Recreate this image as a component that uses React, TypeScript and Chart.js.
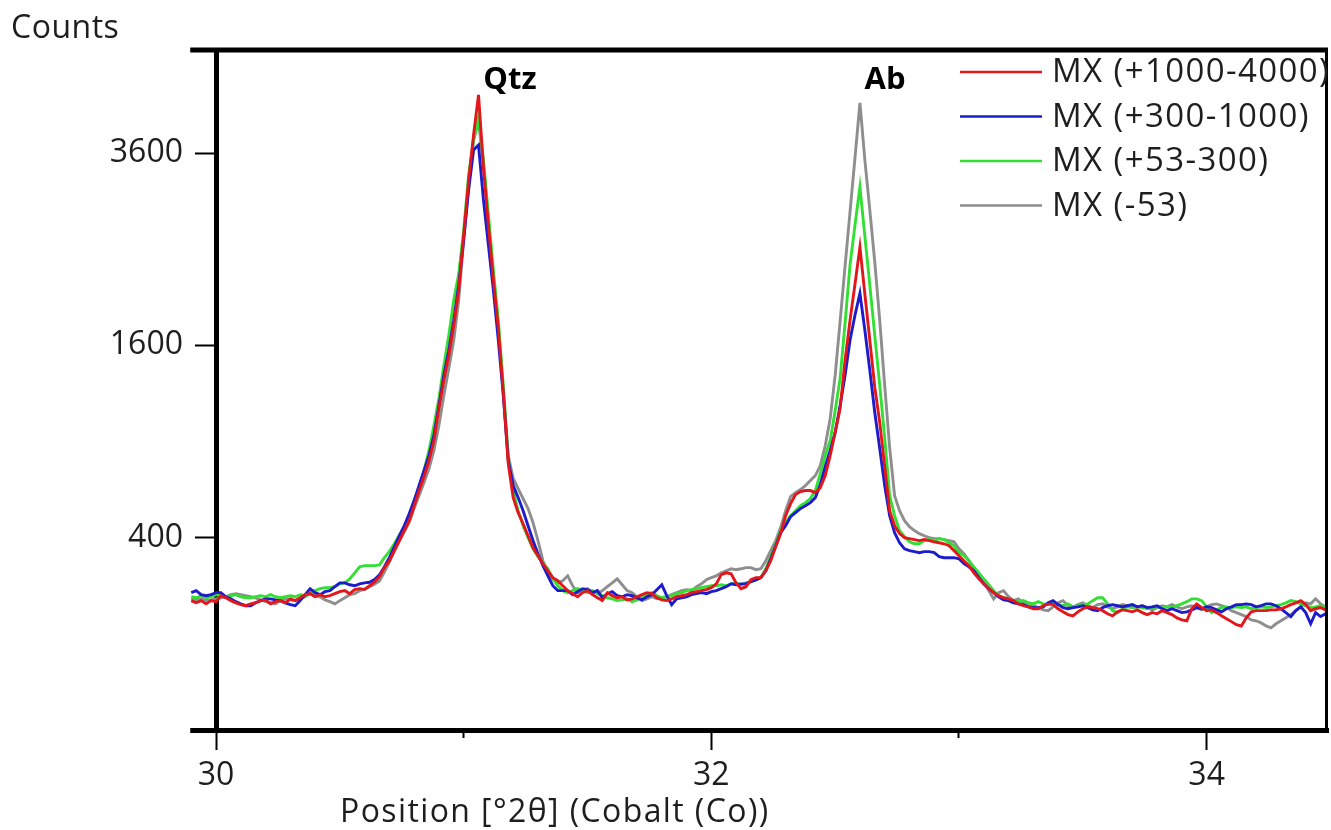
import React, { useEffect, useRef } from 'react';
import { Chart, registerables, LinearScale } from 'chart.js';

Chart.register(...registerables);

// Square-root intensity scale (counts axis)
class SqrtScale extends LinearScale {
  static id = 'sqrt';
  static defaults = {};
  getPixelForValue(value: any) {
    if (value === null || value === undefined || isNaN(value)) return NaN;
    const lo = Math.sqrt(Math.max(this.min, 0));
    const hi = Math.sqrt(Math.max(this.max, 0));
    return this.getPixelForDecimal((Math.sqrt(Math.max(value, 0)) - lo) / (hi - lo));
  }
  getValueForPixel(pixel: number) {
    const lo = Math.sqrt(Math.max(this.min, 0));
    const hi = Math.sqrt(Math.max(this.max, 0));
    const v = lo + this.getDecimalForPixel(pixel) * (hi - lo);
    return v * v;
  }
}
Chart.register(SqrtScale as any);

// ---- scan definition (°2θ) ----
const SCAN_START = 29.9;
const SCAN_STEP = 0.02;

// ---- series values (counts) ----
const mx1000_4000 = [
  181,175,181,172,181,178,195,189,181,175,170,167,172,175,181,183,172,178,181,175,186,181,189,198,201,192,198,192,195,201,207,210,201,213,216,
  214,225,236,254,285,310,348,388,430,474,544,620,695,785,906,1118,1322,1518,1771,2091,2648,3270,3829,4361,3420,2755,2197,1743,1232,768,584,511,460,408,359,328,299,274,251,241,225,
  210,201,192,204,210,198,189,181,204,195,189,192,183,186,192,198,204,201,189,183,181,186,192,195,198,204,207,210,213,219,231,261,267,264,234,216,222,244,251,251,274,310,363,417,
  497,554,599,615,620,620,609,635,700,815,957,1118,1477,1815,2149,2521,2053,1642,1269,1023,751,520,451,417,400,396,392,388,392,388,383,379,375,367,348,328,
  310,292,267,247,231,216,204,195,189,186,181,172,167,164,159,159,167,172,170,159,151,144,141,151,159,164,162,159,154,146,
  141,151,156,154,151,156,149,144,149,146,154,149,144,136,131,129,159,172,162,154,156,149,141,134,127,120,117,136,151,154,
  154,154,156,156,159,164,170,175,181,170,154,159,162,156,154,
];
const mx300_1000 = [
  204,210,198,195,198,204,204,192,186,178,172,167,167,175,181,186,186,183,181,175,170,167,181,198,216,204,198,207,210,222,234,234,228,225,231,
  234,236,245,260,288,321,363,408,451,506,569,646,728,815,938,1139,1359,1558,1815,2139,2595,3152,3638,3700,3036,2541,2091,1642,1210,785,646,584,520,451,388,336,292,257,225,210,210,
  210,198,207,216,213,204,210,189,201,207,195,192,198,195,189,183,192,198,213,228,195,170,186,189,192,198,201,204,201,207,210,216,222,231,228,231,231,238,244,251,274,317,367,421,
  451,492,511,530,544,559,584,651,751,845,957,1139,1359,1642,1860,2062,1728,1398,1090,857,646,497,421,379,355,348,344,340,344,344,340,325,321,321,321,317,
  299,288,274,251,231,216,204,192,183,181,175,172,170,164,162,162,164,175,181,170,162,159,162,164,167,162,156,154,162,167,
  170,167,164,167,170,164,167,162,164,167,159,154,159,154,149,151,156,162,159,164,162,156,151,159,164,170,170,172,170,164,
  167,172,172,167,159,149,139,154,164,149,122,149,139,146,151,
];
const mx53_300 = [
  192,189,195,189,192,198,195,192,195,198,192,189,189,192,195,192,198,192,189,192,195,192,198,195,204,210,216,219,219,222,231,234,247,267,288,
  292,292,292,295,321,345,375,410,443,497,569,635,728,845,1003,1189,1437,1685,1997,2250,2700,3330,3764,4050,3513,2868,2287,1815,1284,797,620,520,451,400,355,325,302,281,247,225,210,
  204,210,216,210,204,210,201,195,189,186,181,183,186,178,183,192,198,204,195,189,192,195,201,204,210,213,216,219,222,225,225,228,225,231,234,228,234,238,244,251,281,325,375,430,
  465,497,520,544,559,579,620,711,815,906,1104,1337,1789,2336,2756,3188,2637,2139,1684,1284,925,594,497,430,404,383,375,375,388,392,388,396,392,379,367,340,
  329,310,288,267,247,228,210,195,189,186,181,178,181,175,172,178,172,170,175,170,167,172,164,167,170,172,181,189,189,172,
  154,149,159,164,162,164,162,159,162,164,162,164,162,167,172,178,186,186,181,164,149,156,162,164,162,164,162,164,159,162,
  164,162,164,167,170,175,181,178,172,167,162,164,167,164,162,
];
const mxMinus53 = [
  186,183,186,181,183,186,189,192,198,201,198,195,192,189,183,178,175,172,181,186,183,181,186,192,201,195,192,183,178,172,181,189,198,201,210,
  214,222,230,240,270,305,345,385,425,465,530,595,662,739,845,1003,1210,1414,1642,1997,2595,3210,3764,3998,3453,2790,2208,1728,1247,815,684,630,579,530,465,388,310,267,247,234,241,
  257,225,204,210,216,207,201,210,222,234,247,228,210,204,192,181,186,192,186,189,192,198,204,210,213,210,222,231,244,251,257,267,274,281,278,281,285,285,278,281,310,348,388,443,
  520,589,609,625,646,673,700,756,875,1049,1359,1805,2326,2900,3538,4251,3513,2922,2366,1815,1284,863,594,520,474,447,430,417,408,400,396,396,392,388,383,355,
  336,310,281,261,241,210,186,204,210,192,181,186,175,170,167,162,156,154,164,175,181,167,162,170,175,167,162,170,172,164,
  159,164,170,167,162,164,167,162,156,162,167,164,170,164,159,164,167,162,156,164,170,172,167,162,154,149,144,139,131,129,
  124,117,113,122,129,136,144,154,164,175,172,186,172,164,170,
];

const positions = mx1000_4000.map((_, i) => +(SCAN_START + i * SCAN_STEP).toFixed(2));

const seriesLabels = ['MX (+1000-4000)', 'MX (+300-1000)', 'MX (+53-300)', 'MX (-53)'];
const seriesValues = [mx1000_4000, mx300_1000, mx53_300, mxMinus53];
const seriesColors = ['#e3161c', '#1c1ccc', '#33df33', '#8e8e8e'];

// ---- axes ----
const xMajorTicks = [30, 32, 34];
const xMinorTicks = [31, 33];
const yTicks = [400, 1600, 3600];
const X_MIN = 30;
const X_MAX = 34.49;
const Y_MAX = 5000;

const peakLabels = ['Qtz', 'Ab'];
const yTitle = 'Counts';
const xTitle = 'Position [°2θ] (Cobalt (Co))';

const FONT = '"Open Sans", "Noto Sans", sans-serif';
const TEXT = '#1e1e1e';

const decorations = {
  id: 'decorations',
  afterDraw(chart: any) {
    const { ctx, chartArea, scales } = chart;
    const xs = scales.x;
    const left = xs.getPixelForValue(positions[0]) - 1;
    const axisY = Math.round(xs.top - 2.5) + 2.5;
    ctx.save();
    ctx.strokeStyle = '#000';
    ctx.lineCap = 'butt';
    // top frame
    ctx.lineWidth = 5;
    ctx.beginPath();
    ctx.moveTo(left, chartArea.top);
    ctx.lineTo(chartArea.right, chartArea.top);
    ctx.stroke();
    // bottom axis extension to the left of 30°
    ctx.beginPath();
    ctx.moveTo(left, axisY);
    ctx.lineTo(chartArea.left, axisY);
    ctx.stroke();
    // right frame
    ctx.lineWidth = 3;
    ctx.beginPath();
    ctx.moveTo(chartArea.right - 1.5, chartArea.top);
    ctx.lineTo(chartArea.right - 1.5, axisY + 2.5);
    ctx.stroke();

    ctx.fillStyle = TEXT;
    ctx.textBaseline = 'alphabetic';
    // y title
    ctx.font = `32px ${FONT}`;
    ctx.textAlign = 'left';
    (ctx as any).letterSpacing = '0.5px';
    ctx.fillText(yTitle, 11, 38);
    // x title
    (ctx as any).letterSpacing = '1.4px';
    ctx.fillText(xTitle, 340, 822);
    (ctx as any).letterSpacing = '0px';

    // peak labels
    ctx.font = `bold 31px ${FONT}`;
    ctx.fillStyle = '#000';
    ctx.textAlign = 'center';
    ctx.fillText(peakLabels[0], 510, 89);
    ctx.fillText(peakLabels[1], 885, 89);

    // legend
    ctx.font = `33px ${FONT}`;
    ctx.textAlign = 'left';
    ctx.textBaseline = 'middle';
    chart.data.datasets.forEach((ds: any, i: number) => {
      const y = 72 + 44.5 * i;
      ctx.strokeStyle = ds.borderColor;
      ctx.lineWidth = 2.5;
      ctx.beginPath();
      ctx.moveTo(960, y);
      ctx.lineTo(1042, y);
      ctx.stroke();
      ctx.fillStyle = TEXT;
      (ctx as any).letterSpacing = '1.4px';
      ctx.fillText(ds.label, 1052, y + 1);
      (ctx as any).letterSpacing = '0px';
    });
    ctx.restore();
  },
};

export default function App() {
  const ref = useRef<HTMLCanvasElement>(null);
  useEffect(() => {
    document.body.style.margin = '0';
    const chart = new Chart(ref.current as HTMLCanvasElement, {
      type: 'line',
      data: {
        datasets: seriesLabels.map((label, k) => ({
          label,
          data: seriesValues[k].map((v, i) => ({ x: positions[i], y: v })),
          borderColor: seriesColors[k],
          backgroundColor: seriesColors[k],
          borderWidth: 2.9,
          pointRadius: 0,
          tension: 0,
          fill: false,
          clip: { left: 30, top: 0, right: 0, bottom: 0 } as any,
        })),
      },
      options: {
        animation: false,
        responsive: false,
        maintainAspectRatio: false,
        devicePixelRatio: 1,
        events: [],
        layout: { padding: { top: 50, right: 3, left: 0, bottom: 0 } },
        plugins: { legend: { display: false }, tooltip: { enabled: false } },
        scales: {
          x: {
            type: 'linear',
            bounds: 'data',
            afterDataLimits: (s: any) => { s.min = X_MIN; s.max = X_MAX; },
            afterBuildTicks: (s: any) => { s.ticks = xMajorTicks.map((v) => ({ value: v })); },
            afterFit: (s: any) => { s.height = 100; },
            grid: { drawOnChartArea: false, drawTicks: true, tickLength: 20, tickWidth: 2, tickColor: '#000' },
            border: { display: true, width: 5, color: '#000' },
            ticks: { font: { family: FONT, size: 32 }, color: TEXT, padding: 7, maxRotation: 0, autoSkip: false, callback: (v: any) => String(v) },
          },
          x2: {
            type: 'linear',
            position: { y: 0 } as any,
            min: X_MIN,
            max: X_MAX,
            bounds: 'data',
            afterBuildTicks: (s: any) => { s.ticks = xMinorTicks.map((v) => ({ value: v })); },
            grid: { drawOnChartArea: false, drawTicks: true, tickLength: 8, tickWidth: 2, tickColor: '#000' },
            border: { display: false },
            ticks: { display: false },
          },
          y: {
            type: 'sqrt' as any,
            position: 'left',
            min: 0,
            max: Y_MAX,
            bounds: 'data',
            afterBuildTicks: (s: any) => { s.ticks = yTicks.map((v) => ({ value: v })); },
            afterFit: (s: any) => { s.width = 216; },
            grid: { drawOnChartArea: false, drawTicks: true, tickLength: 21, tickWidth: 2, tickColor: '#000' },
            border: { display: true, width: 5, color: '#000' },
            ticks: { font: { family: FONT, size: 32 }, color: TEXT, padding: 12, autoSkip: false, callback: (v: any) => String(v) },
          },
        } as any,
      },
      plugins: [decorations],
    } as any);
    return () => chart.destroy();
  }, []);
  return (
    <div style={{ position: 'absolute', left: 0, top: 0, width: 1331, height: 830, background: '#fff' }}>
      <canvas ref={ref} width={1331} height={830} style={{ display: 'block', width: 1331, height: 830 }} />
    </div>
  );
}
